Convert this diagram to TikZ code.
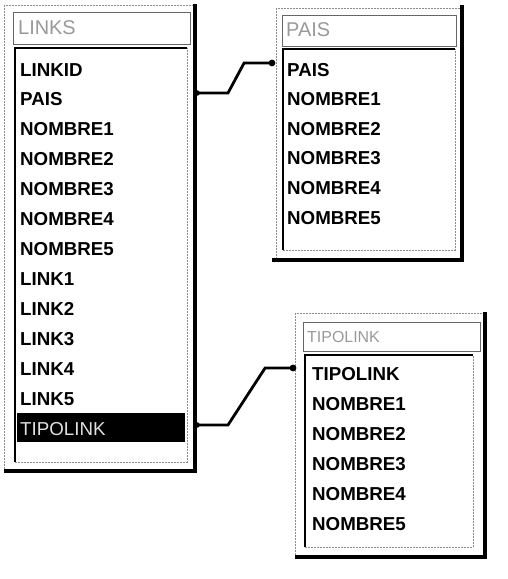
\documentclass[tikz,border=0pt]{standalone}
\usepackage{fontspec}
\setmainfont{Liberation Sans}
\begin{document}
\begin{tikzpicture}[x=1bp,y=-1bp,
  field/.style={anchor=west,font=\fontsize{18.8}{18.8}\selectfont\bfseries,inner sep=0pt},
  selfield/.style={anchor=west,font=\fontsize{18.8}{18.8}\selectfont,text=black!12,inner sep=0pt},
  ttl/.style={anchor=west,font=\fontsize{20}{20}\selectfont,text=black!40,inner sep=0pt},
  winframe/.style={draw=black!45,line width=0.8bp,dash pattern=on 2bp off 1bp},
  titlebox/.style={draw=black!60,line width=0.8bp},
  listbox/.style={fill=white,draw=black!45,line width=0.8bp,dash pattern=on 2bp off 1bp},
  heavy/.style={line width=3.2bp,black},
  sunken/.style={line width=2.8bp,black},
  conn/.style={line width=2.8bp,black},
  ]
\useasboundingbox (0,0) rectangle (508,579);

% ---------------- LINKS window ----------------
\draw[winframe] (4,5) rectangle (195,470);
\draw[titlebox] (13,12) rectangle (190,44);
\node[ttl] (t-links) at (18,28) {LINKS};
\draw[listbox] (15,48) rectangle (187,462);
\draw[sunken] (15,462) -- (15,48) -- (187,48);
\draw[heavy] (195,4) -- (195,471) -- (4,471);
\fill[black] (17,413) rectangle (185,442);
\node[field] (l1) at (20,70) {LINKID};
\node[field] (l2) at (20,99) {PAIS};
\node[field] (l3) at (20,129) {NOMBRE1};
\node[field] (l4) at (20,159) {NOMBRE2};
\node[field] (l5) at (20,189) {NOMBRE3};
\node[field] (l6) at (20,219) {NOMBRE4};
\node[field] (l7) at (20,249) {NOMBRE5};
\node[field] (l8) at (20,279) {LINK1};
\node[field] (l9) at (20,309) {LINK2};
\node[field] (l10) at (20,339) {LINK3};
\node[field] (l11) at (20,369) {LINK4};
\node[field] (l12) at (20,399) {LINK5};
\node[selfield] (l13) at (20,429) {TIPOLINK};

% ---------------- PAIS window ----------------
\draw[winframe] (276,8) rectangle (462,259);
\draw[titlebox] (282,15) rectangle (456,46);
\node[ttl] (t-pais) at (286,30) {PAIS};
\draw[listbox] (283,49) rectangle (455,250);
\draw[sunken] (283,250) -- (283,49) -- (455,49);
\draw[heavy] (462,5) -- (462,260) -- (272,260);
\node[field] (p1) at (287,70) {PAIS};
\node[field] (p2) at (287,99) {NOMBRE1};
\node[field] (p3) at (287,129) {NOMBRE2};
\node[field] (p4) at (287,158) {NOMBRE3};
\node[field] (p5) at (287,188) {NOMBRE4};
\node[field] (p6) at (287,218) {NOMBRE5};

% ---------------- TIPOLINK window ----------------
\draw[winframe] (295,313) rectangle (485,557);
\draw[titlebox] (303,322) rectangle (480,351);
\node[ttl,font=\fontsize{16}{16}\selectfont] (t-tipo) at (307,337) {TIPOLINK};
\draw[listbox] (305,355) rectangle (473,547);
\draw[sunken] (305,547) -- (305,355) -- (473,355);
\draw[heavy] (485,312) -- (485,557) -- (295,557);
\node[field] (q1) at (312,374) {TIPOLINK};
\node[field] (q2) at (312,404) {NOMBRE1};
\node[field] (q3) at (312,434) {NOMBRE2};
\node[field] (q4) at (312,464) {NOMBRE3};
\node[field] (q5) at (312,494) {NOMBRE4};
\node[field] (q6) at (312,524) {NOMBRE5};

% ---------------- connectors ----------------
\coordinate (c-lpais) at (197,93);
\coordinate (c-ppais) at (272,63);
\coordinate (c-ltipo) at (197,425);
\coordinate (c-qtipo) at (293,368);
\draw[conn] (c-lpais) -- ++(31,0) -- ([xshift=-28]c-ppais) -- (c-ppais);
\fill (c-lpais) circle (2.8);
\fill (c-ppais) circle (3.4);
\draw[conn] (c-ltipo) -- ++(31,0) -- ([xshift=-28]c-qtipo) -- (c-qtipo);
\fill (c-ltipo) circle (2.8);
\fill (c-qtipo) circle (3.4);
\end{tikzpicture}
\end{document}
